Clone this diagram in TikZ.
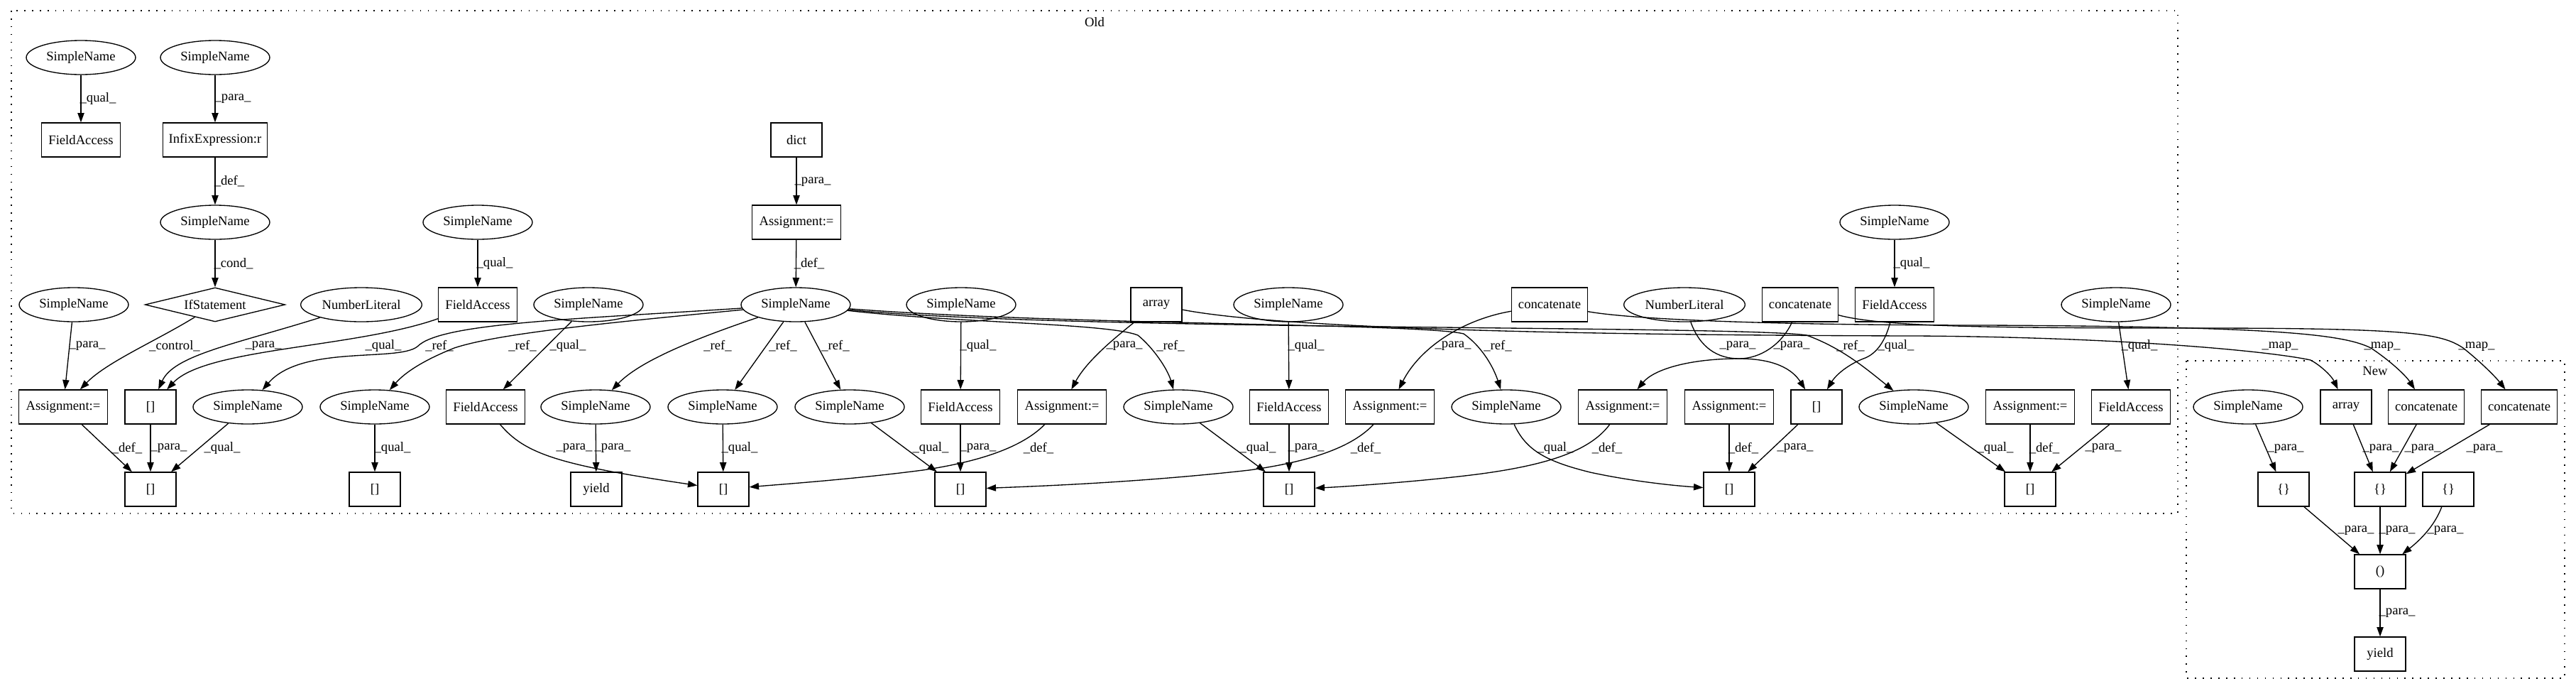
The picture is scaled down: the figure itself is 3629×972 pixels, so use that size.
\documentclass[tikz,border=0pt]{standalone}
\usepackage{fontspec}
\setmainfont{Liberation Serif}
\usetikzlibrary{shapes.geometric,arrows.meta}
\begin{document}
\begin{tikzpicture}[x=0.75pt,y=-0.75pt,
  every node/.style={font=\fontsize{14}{16}\selectfont, inner sep=0pt},
  sn/.style={ellipse,draw,line width=1pt,minimum width=115.5pt,minimum height=36pt},
  nlit/.style={ellipse,draw,line width=1pt,minimum width=128pt,minimum height=36pt},
  bx/.style={rectangle,draw,line width=1pt,minimum height=36pt},
  fa/.style={bx,minimum width=83pt},
  asg/.style={bx,minimum width=94pt},
  sq/.style={bx,minimum width=54pt},
  cat/.style={bx,minimum width=80pt},
  dia/.style={diamond,draw,line width=1pt,aspect=4.2,minimum width=148pt,minimum height=36pt},
  ed/.style={line width=1pt,-{Triangle[length=10pt,width=7pt]}},
  lab/.style={},
  clu/.style={draw,line width=1pt,dash pattern=on 1.2pt off 7pt}]
\useasboundingbox (0,0) rectangle (3629,972);
% clusters
\draw[clu] (16,15) rectangle (3068,723);
\node[lab] (oldlab) at (1542,31) {Old};
\draw[clu] (3080,508) rectangle (3613,955);
\node[lab] (newlab) at (3346,522) {New};
% row 1
\node[sn] (a1) at (114,81) {SimpleName};
\node[sn] (a2) at (303,81) {SimpleName};
% row 2
\node[fa] (f1) at (114,197) {FieldAccess};
\node[bx,minimum width=110pt] (inf) at (303,197) {InfixExpression:r};
\node[sq] (dict) at (1122,197) {dict};
% row 3
\node[sn] (b) at (303,313) {SimpleName};
\node[sn] (d) at (673,313) {SimpleName};
\node[asg] (as0) at (1122,313) {Assignment:=};
\node[sn] (p) at (2669,313) {SimpleName};
% row 4
\node[sn] (c) at (104,429) {SimpleName};
\node[dia] (ifs) at (303,429) {IfStatement};
\node[nlit] (n1) at (509,429) {NumberLiteral};
\node[fa] (f2) at (673,429) {FieldAccess};
\node[sn] (h) at (829,429) {SimpleName};
\node[sn] (s) at (1121,429) {SimpleName};
\node[sn] (i) at (1354,429) {SimpleName};
\node[sq] (arr) at (1629,429) {array};
\node[sn] (m) at (1815,429) {SimpleName};
\node[cat] (c1) at (2183,429) {concatenate};
\node[nlit] (n2) at (2373,429) {NumberLiteral};
\node[cat] (c2) at (2536,429) {concatenate};
\node[fa] (f6) at (2669,429) {FieldAccess};
\node[sn] (q) at (2981,429) {SimpleName};
% row 5
\node[asg] (as1) at (89,573) {Assignment:=};
\node[sq] (br1) at (212,573) {[]};
\node[sn] (e) at (349,573) {SimpleName};
\node[sn] (g) at (528,573) {SimpleName};
\node[fa] (f3) at (684,573) {FieldAccess};
\node[sn] (j) at (839,573) {SimpleName};
\node[sn] (k) at (1018,573) {SimpleName};
\node[sn] (l) at (1197,573) {SimpleName};
\node[fa] (f4) at (1353,573) {FieldAccess};
\node[asg] (as2) at (1496,573) {Assignment:=};
\node[sn] (n) at (1660,573) {SimpleName};
\node[fa] (f5) at (1816,573) {FieldAccess};
\node[asg] (as3) at (1958,573) {Assignment:=};
\node[sn] (o) at (2122,573) {SimpleName};
\node[asg] (as4) at (2286,573) {Assignment:=};
\node[asg] (as5) at (2436,573) {Assignment:=};
\node[sq] (br2) at (2559,573) {[]};
\node[sn] (r) at (2696,573) {SimpleName};
\node[asg] (as6) at (2860,573) {Assignment:=};
\node[fa] (f7) at (3002,573) {FieldAccess};
% row 6
\node[sq] (br3) at (212,689) {[]};
\node[sq] (br4) at (528,689) {[]};
\node[sq] (yo) at (840,689) {yield};
\node[sq] (br5) at (1019,689) {[]};
\node[sq] (br6) at (1353,689) {[]};
\node[sq] (br7) at (1816,689) {[]};
\node[sq] (br8) at (2436,689) {[]};
\node[sq] (br9) at (2860,689) {[]};
% New
\node[sn] (ns) at (3167,573) {SimpleName};
\node[sq] (narr) at (3305,573) {array};
\node[cat] (nc1) at (3418,573) {concatenate};
\node[cat] (nc2) at (3549,573) {concatenate};
\node[sq] (nb1) at (3217,689) {\{\}};
\node[sq] (nb2) at (3353,689) {\{\}};
\node[sq] (nb3) at (3449,689) {\{\}};
\node[sq] (par) at (3353,805) {()};
\node[sq] (ny) at (3353,921) {yield};

% edges Old, upper part
\draw[ed] (a1) -- (f1);
\draw[ed] (a2) -- (inf);
\draw[ed] (inf) -- (b);
\draw[ed] (b) -- (ifs);
\draw[ed] (d) -- (f2);
\draw[ed] (dict) -- (as0);
\draw[ed] (as0) -- (s);
\draw[ed] (p) -- (f6);
% row 4 -> row 5
\draw[ed] (c) -- (as1);
\draw[ed] (ifs) .. controls (220,480) and (150,510) .. (as1);
\draw[ed] (n1) .. controls (330,485) and (245,500) .. (br1);
\draw[ed] (f2) .. controls (500,490) and (290,490) .. (br1);
\draw[ed] (s) .. controls (800,450) and (620,455) .. (588,488) .. controls (560,510) and (425,485) .. (e);
\draw[ed] (s) .. controls (850,455) and (700,470) .. (640,490) .. controls (595,508) and (570,525) .. (g);
\draw[ed] (h) -- (f3);
\draw[ed] (s) .. controls (970,480) and (900,510) .. (j);
\draw[ed] (s) -- (k);
\draw[ed] (s) -- (l);
\draw[ed] (i) -- (f4);
\draw[ed] (arr) .. controls (1565,480) and (1530,510) .. (as2);
\draw[ed] (s) .. controls (1350,455) and (1560,455) .. (1603,472) .. controls (1625,490) and (1645,520) .. (n);
\draw[ed] (m) -- (f5);
\draw[ed] (c1) .. controls (2060,450) and (2000,490) .. (as3);
\draw[ed] (s) .. controls (1500,458) and (2000,455) .. (2062,470) .. controls (2090,490) and (2105,520) .. (o);
\draw[ed] (n2) .. controls (2395,490) and (2420,505) .. (2450,505) .. controls (2500,505) and (2525,520) .. (br2);
\draw[ed] (c2) .. controls (2510,485) and (2480,505) .. (2450,505) .. controls (2380,505) and (2330,520) .. (as4);
\draw[ed] (s) .. controls (1500,466) and (2450,458) .. (2545,472) .. controls (2595,490) and (2630,520) .. (r);
\draw[ed] (f6) .. controls (2655,485) and (2640,500) .. (2625,505) .. controls (2600,515) and (2585,530) .. (br2);
\draw[ed] (q) -- (f7);
% map edges
\draw[ed] (arr) .. controls (1800,462) and (2200,472) .. (2700,473) .. controls (3000,475) and (3200,495) .. (3255,507) .. controls (3270,515) and (3285,530) .. (narr);
\draw[ed] (c1) .. controls (2300,450) and (2500,458) .. (2800,458) .. controls (3200,460) and (3300,470) .. (3340,490) .. controls (3370,510) and (3390,530) .. (nc1);
\draw[ed] (c2) .. controls (2650,460) and (2800,462) .. (3100,462) .. controls (3400,462) and (3440,470) .. (3470,490) .. controls (3495,510) and (3515,530) .. (nc2);
% row 5 -> row 6
\draw[ed] (as1) -- (br3);
\draw[ed] (br1) -- (br3);
\draw[ed] (e) -- (br3);
\draw[ed] (g) -- (br4);
\draw[ed] (f3) .. controls (740,640) and (790,655) .. (br5);
\draw[ed] (j) -- (yo);
\draw[ed] (k) -- (br5);
\draw[ed] (as2) .. controls (1440,630) and (1380,650) .. (1300,662) .. controls (1200,675) and (1100,682) .. (br5);
\draw[ed] (l) -- (br6);
\draw[ed] (f4) -- (br6);
\draw[ed] (as3) .. controls (1900,635) and (1830,652) .. (1760,662) .. controls (1600,680) and (1450,685) .. (br6);
\draw[ed] (n) -- (br7);
\draw[ed] (f5) -- (br7);
\draw[ed] (as4) .. controls (2240,635) and (2180,655) .. (2080,668) .. controls (2000,678) and (1900,685) .. (br7);
\draw[ed] (o) .. controls (2150,635) and (2180,650) .. (2240,665) .. controls (2300,678) and (2360,684) .. (br8);
\draw[ed] (as5) -- (br8);
\draw[ed] (br2) -- (br8);
\draw[ed] (r) -- (br9);
\draw[ed] (as6) -- (br9);
\draw[ed] (f7) -- (br9);
% New edges
\draw[ed] (ns) -- (nb1);
\draw[ed] (narr) -- (nb2);
\draw[ed] (nc1) -- (nb2);
\draw[ed] (nc2) -- (nb2);
\draw[ed] (nb1) -- (par);
\draw[ed] (nb2) -- (par);
\draw[ed] (nb3) .. controls (3430,740) and (3410,760) .. (par);
\draw[ed] (par) -- (ny);

% labels
\node[lab] at (138,139) {\_qual\_};
\node[lab] at (328,139) {\_para\_};
\node[lab] at (323,255) {\_def\_};
\node[lab] at (329,371) {\_cond\_};
\node[lab] at (697,371) {\_qual\_};
\node[lab] at (1145,256) {\_para\_};
\node[lab] at (1140,371) {\_def\_};
\node[lab] at (2693,371) {\_qual\_};
\node[lab] at (123,487) {\_para\_};
\node[lab] at (246,487) {\_control\_};
\node[lab] at (371,487) {\_para\_};
\node[lab] at (540,487) {\_qual\_};
\node[lab] at (619,487) {\_ref\_};
\node[lab] at (736,487) {\_ref\_};
\node[lab] at (800,487) {\_qual\_};
\node[lab] at (1011,487) {\_ref\_};
\node[lab] at (1103,487) {\_ref\_};
\node[lab] at (1177,487) {\_ref\_};
\node[lab] at (1378,487) {\_qual\_};
\node[lab] at (1584,487) {\_para\_};
\node[lab] at (1649,487) {\_ref\_};
\node[lab] at (1840,487) {\_qual\_};
\node[lab] at (2047,487) {\_para\_};
\node[lab] at (2110,487) {\_ref\_};
\node[lab] at (2448,487) {\_para\_};
\node[lab] at (2524,487) {\_para\_};
\node[lab] at (2607,487) {\_ref\_};
\node[lab] at (2671,487) {\_qual\_};
\node[lab] at (3014,487) {\_qual\_};
\node[lab] at (3212,488) {\_map\_};
\node[lab] at (3356,488) {\_map\_};
\node[lab] at (3489,488) {\_map\_};
\node[lab] at (179,631) {\_def\_};
\node[lab] at (238,631) {\_para\_};
\node[lab] at (313,631) {\_qual\_};
\node[lab] at (553,631) {\_qual\_};
\node[lab] at (809,631) {\_para\_};
\node[lab] at (863,631) {\_para\_};
\node[lab] at (1042,631) {\_qual\_};
\node[lab] at (1311,631) {\_qual\_};
\node[lab] at (1378,631) {\_para\_};
\node[lab] at (1463,631) {\_def\_};
\node[lab] at (1772,631) {\_qual\_};
\node[lab] at (1840,631) {\_para\_};
\node[lab] at (1924,631) {\_def\_};
\node[lab] at (2191,631) {\_qual\_};
\node[lab] at (2264,631) {\_def\_};
\node[lab] at (2456,631) {\_def\_};
\node[lab] at (2529,631) {\_para\_};
\node[lab] at (2811,631) {\_qual\_};
\node[lab] at (2880,631) {\_def\_};
\node[lab] at (2963,631) {\_para\_};
\node[lab] at (3220,632) {\_para\_};
\node[lab] at (3354,632) {\_para\_};
\node[lab] at (3413,632) {\_para\_};
\node[lab] at (3500,632) {\_para\_};
\node[lab] at (3319,747) {\_para\_};
\node[lab] at (3377,747) {\_para\_};
\node[lab] at (3445,747) {\_para\_};
\node[lab] at (3377,863) {\_para\_};
\end{tikzpicture}
\end{document}
